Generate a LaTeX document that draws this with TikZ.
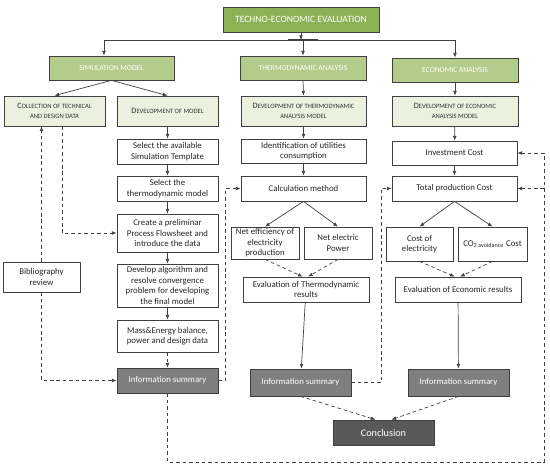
\documentclass[tikz,border=0pt]{standalone}
\usepackage{fontspec}
\setmainfont{Carlito}
\usetikzlibrary{arrows.meta}
\definecolor{topgreen}{HTML}{8DB255}
\definecolor{midgreen}{HTML}{B3CB8B}
\definecolor{palegreen}{HTML}{EBF1DE}
\definecolor{infogray}{HTML}{7F7F7F}
\definecolor{concgray}{HTML}{595959}
\definecolor{boxline}{HTML}{404040}
\newcommand\smc[1]{{\fontsize{5.6}{8}\selectfont #1}}
\begin{document}
\begin{tikzpicture}[x=0.3mm,y=-0.3mm,
  >={Latex[length=4pt,width=3.2pt]},
  box/.style={draw=boxline,line width=0.6pt,align=center,inner sep=1pt,
    font=\fontsize{7.5}{9}\selectfont,text=black!85,fill=white},
  sz/.style 2 args={minimum width=#1*0.3mm,minimum height=#2*0.3mm},
  headbox/.style={box,fill=midgreen,text=white,font=\fontsize{6.5}{8}\selectfont},
  topbox/.style={box,fill=topgreen,text=white,font=\fontsize{8.2}{10}\selectfont},
  subbox/.style={box,fill=palegreen,text=black!80,font=\fontsize{7}{8}\selectfont},
  infobox/.style={box,fill=infogray,text=white},
  link/.style={draw=boxline,line width=0.6pt,->},
  dlink/.style={link,dash pattern=on 3pt off 2.5pt}]
\useasboundingbox (0,0) rectangle (550,468);

\node[topbox,sz={156}{25}] (top) at (301,19.5) {TECHNO-ECONOMIC EVALUATION};
\node[headbox,sz={125}{24}] (sim) at (111.5,68) {SIMULATION MODEL};
\node[headbox,sz={126}{24}] (thermo) at (303,68) {THERMODYNAMIC ANALYSIS};
\node[headbox,sz={126}{24}] (econ) at (455,70) {ECONOMIC ANALYSIS};

\node[subbox,sz={101}{30}] (coll) at (54.5,111) {C\smc{OLLECTION OF TECHNICAL}\\\smc{AND DESIGN DATA}};
\node[subbox,sz={101}{30}] (devmod) at (167.5,111) {D\smc{EVELOPMENT OF MODEL}};
\node[subbox,sz={125}{30}] (devthermo) at (303.5,111) {D\smc{EVELOPMENT OF THERMODYNAMIC}\\\smc{ANALYSIS MODEL}};
\node[subbox,sz={126}{30}] (devecon) at (455,111) {D\smc{EVELOPMENT OF ECONOMIC}\\\smc{ANALYSIS MODEL}};

\node[box,sz={101}{25}] (seltemp) at (167.5,151.5) {Select the available\\Simulation Template};
\node[box,sz={101}{25}] (selthermo) at (167.5,188.5) {Select the\\thermodynamic model};
\node[box,sz={101}{38}] (prelim) at (167.5,233) {Create a preliminar\\Process Flowsheet and\\introduce the data};
\node[box,sz={101}{43}] (algo) at (167.5,285.5) {Develop algorithm and\\resolve convergence\\problem for developing\\the final model};
\node[box,sz={101}{32}] (masse) at (167.5,336) {Mass\&Energy balance,\\power and design data};
\node[infobox,sz={101}{25}] (infosim) at (167.5,380.5) {Information summary};
\node[box,sz={77}{30}] (biblio) at (41.5,277) {Bibliography\\review};

\node[box,sz={125}{24}] (ident) at (303.5,151) {Identification of utilities\\consumption};
\node[box,sz={125}{25}] (calc) at (303.5,188.5) {Calculation method};
\node[box,sz={68}{32}] (neteff) at (265,243) {Net efficiency of\\electricity\\production};
\node[box,sz={68}{32}] (netpow) at (338,243) {Net electric\\Power};
\node[box,sz={126}{25}] (evalt) at (306,289.5) {Evaluation of Thermodynamic\\results};
\node[infobox,sz={101}{27}] (infot) at (300.5,382.5) {Information summary};

\node[box,sz={125}{24}] (invest) at (454.5,153) {Investment Cost};
\node[box,sz={125}{25}] (total) at (454.5,188.5) {Total production Cost};
\node[box,sz={67}{34}] (coste) at (419.5,244) {Cost of\\electricity};
\node[box,sz={69}{34}] (co2) at (492.5,244) {CO\textsubscript{2 avoidance} Cost};
\node[box,sz={126}{25}] (evale) at (458,289.5) {Evaluation of Economic results};
\node[infobox,sz={101}{27}] (infoe) at (458.5,382.5) {Information summary};

\node[infobox,fill=concgray,sz={101}{25},font=\fontsize{8.7}{10}\selectfont] (concl) at (383.5,432.5) {Conclusion};

\coordinate (busl) at (104,40);
\coordinate (busm) at (303,40);
\coordinate (busr) at (455,40);
\coordinate (loop) at (544,462);

\draw[link] (top.south) -- (top.south |- busm);
\draw[draw=boxline,line width=0.6pt] (busl) -- (busr);
\draw[draw=boxline,line width=1.6pt] ([xshift=-4.5mm]busm) -- ([xshift=4.5mm]busm);
\draw[link] (busl) -- (busl |- sim.north);
\draw[link] (busm) -- (thermo.north);
\draw[link] (busr) -- (econ.north);

\draw[link] (sim.south) -- (coll.north);
\draw[link] (sim.south) -- (devmod.north);
\draw[link] (thermo.south) -- (devthermo.north);
\draw[link] (econ.south) -- (devecon.north);

\draw[link] (devmod) -- (seltemp);
\draw[link] (seltemp) -- (selthermo);
\draw[link] (selthermo) -- (prelim);
\draw[link] (prelim) -- (algo);
\draw[link] (algo) -- (masse);
\draw[dlink] (masse) -- (infosim);

\draw[link] (devthermo) -- (ident);
\draw[link] (ident) -- (calc);
\draw[link] (calc.south) -- (neteff.north);
\draw[link] (calc.south) -- (netpow.north);
\draw[dlink] (neteff.south) -- ([xshift=-1mm]evalt.north);
\draw[dlink] (netpow.south) -- ([xshift=0.6mm]evalt.north);
\draw[link] (evalt) -- (infot);

\draw[link] (devecon) -- (invest);
\draw[link] (invest) -- (total);
\draw[link] (total.south) -- (coste.north);
\draw[link] (total.south) -- (co2.north);
\draw[dlink] (coste.south) -- ([xshift=-1mm]evale.north);
\draw[dlink] (co2.south) -- ([xshift=0.6mm]evale.north);
\draw[link] (evale) -- (infoe);

\draw[dlink] (infot.south) -- ([xshift=-2.4mm]concl.north);
\draw[dlink] (infoe.south) -- ([xshift=2.4mm]concl.north);

\draw[dlink] (biblio.north) -- (biblio.north |- coll.south);
\draw[dlink] (biblio.south) |- (infosim.west);
\draw[dlink] ([xshift=2.25mm]coll.south) |- (prelim.west);
\draw[dlink] (infosim.east) -- ++(7,0) |- (calc.west);
\draw[dlink] (infot.east) -- ++(30,0) |- (total.west);
\draw[dlink] (infosim.south) |- (loop) |- (invest.east);
\draw[dlink] (total.east -| loop) -- (total.east);
\end{tikzpicture}
\end{document}
